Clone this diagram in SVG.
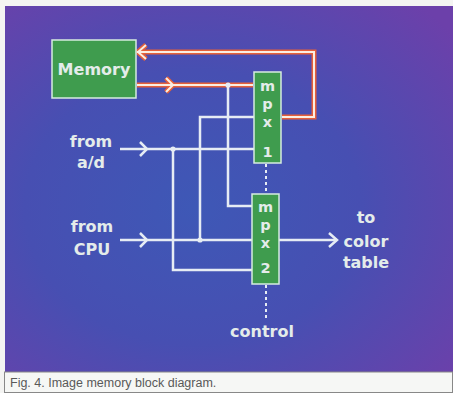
<svg xmlns="http://www.w3.org/2000/svg" width="453" height="393" viewBox="0 0 453 393">
<defs>
<radialGradient id="bg" cx="0.42" cy="0.55" r="0.75">
<stop offset="0" stop-color="#3e58b6"/>
<stop offset="0.5" stop-color="#474fb2"/>
<stop offset="1" stop-color="#6c40aa"/>
</radialGradient>
<style>
.lbl{font-family:"DejaVu Sans",sans-serif;font-weight:bold;font-size:16px;fill:#e4ecea;text-anchor:middle}
.mx{font-size:14.5px}
.box{fill:#3f9c4e;stroke:#d6ece0;stroke-width:1.5}
.w{fill:none;stroke:#e6ecf4;stroke-width:2.5;stroke-linejoin:miter}
.ro{fill:none;stroke:#e5603a;stroke-width:5;stroke-linejoin:miter}
.rw{fill:none;stroke:#fbeee2;stroke-width:2;stroke-linejoin:miter}
.dash{fill:none;stroke:#e6ecf4;stroke-width:2;stroke-dasharray:3 3}
.dot{fill:#e6ecf4}
.cap{font-family:"Liberation Sans",Arial,sans-serif;font-size:12.5px;fill:#595959}
</style>
</defs>
<rect x="0" y="0" width="453" height="393" fill="#f4f4f2"/>
<rect x="5" y="6" width="448" height="366" fill="url(#bg)"/>
<rect x="4.5" y="372" width="448" height="20.5" fill="#f6f7f5" stroke="#888" stroke-width="1"/>
<text class="cap" x="10" y="387">Fig. 4. Image memory block diagram.</text>

<g id="connectors">
<!-- feedback mpx1 -> memory -->
<path class="ro" d="M282 117 H314 V52 H137"/>
<path class="ro" d="M146 45 L138 52 L146 59"/>
<path class="rw" d="M282 117 H314 V52 H137"/>
<path class="rw" d="M146 45 L138 52 L146 59"/>
<!-- memory -> mpx1 -->
<path class="ro" d="M137 85 H253"/>
<path class="ro" d="M166 78 L173 85 L166 92"/>
<path class="rw" d="M137 85 H253"/>
<path class="rw" d="M166 78 L173 85 L166 92"/>
<!-- memory data to mpx2 -->
<path class="w" d="M228 85 V206 H252"/>
<!-- from a/d -->
<path class="w" d="M120 149 H254"/>
<path class="w" d="M140 142 L147 149 L140 156"/>
<path class="w" d="M173 149 V270 H252"/>
<!-- from CPU -->
<path class="w" d="M120 240 H252"/>
<path class="w" d="M140 233 L147 240 L140 247"/>
<path class="w" d="M200 240 V117 H254"/>
<!-- output -->
<path class="w" d="M279 240 H337"/>
<path class="w" d="M329 233 L337 240 L329 247"/>
<!-- control -->
<path class="dash" d="M266 164 V194"/>
<path class="dash" d="M266 285 V318"/>
<circle class="dot" cx="228" cy="85" r="2.6"/>
<circle class="dot" cx="173" cy="149" r="2.6"/>
<circle class="dot" cx="200" cy="240" r="2.6"/>
</g>

<g id="memory">
<rect class="box" x="52" y="40" width="84" height="58"/>
<text class="lbl" x="94" y="75">Memory</text>
</g>
<g id="mpx1">
<rect class="box" x="254" y="72" width="27" height="91"/>
<text class="lbl mx" x="267.5" y="91">m</text>
<text class="lbl mx" x="267.5" y="109">p</text>
<text class="lbl mx" x="267.5" y="127">x</text>
<text class="lbl mx" x="267.5" y="157">1</text>
</g>
<g id="mpx2">
<rect class="box" x="252" y="194" width="27" height="90"/>
<text class="lbl mx" x="265.5" y="212">m</text>
<text class="lbl mx" x="265.5" y="230">p</text>
<text class="lbl mx" x="265.5" y="248">x</text>
<text class="lbl mx" x="265.5" y="273">2</text>
</g>
<g id="from-ad">
<text class="lbl" x="91" y="147">from</text>
<text class="lbl" x="91" y="168">a/d</text>
</g>
<g id="from-cpu">
<text class="lbl" x="92" y="232">from</text>
<text class="lbl" x="92" y="255">CPU</text>
</g>
<g id="to-color-table">
<text class="lbl" x="366" y="223">to</text>
<text class="lbl" x="366" y="247">color</text>
<text class="lbl" x="366" y="268">table</text>
</g>
<g id="control">
<text class="lbl" x="262" y="337">control</text>
</g>
</svg>
